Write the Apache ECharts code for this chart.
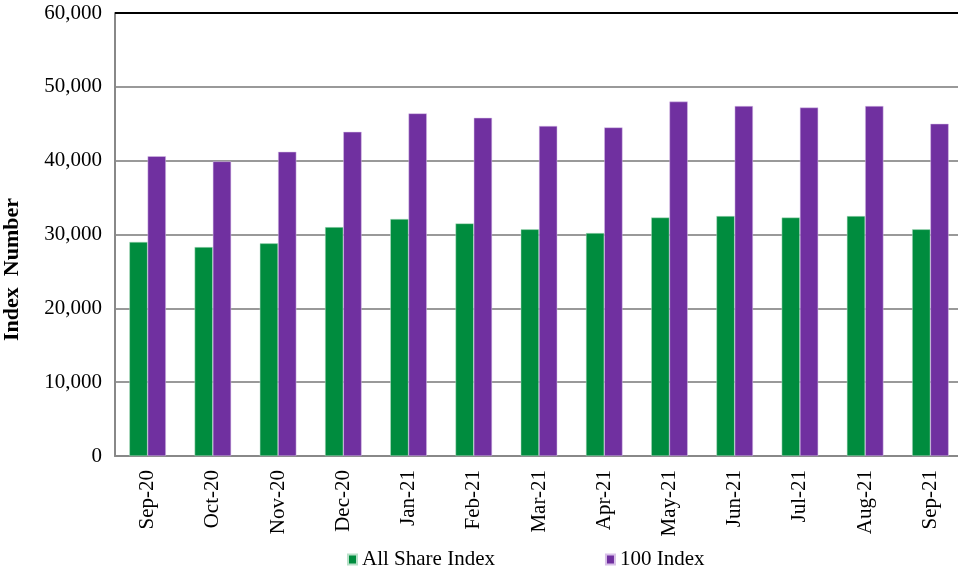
<!DOCTYPE html>
<html>
<head>
<meta charset="utf-8">
<script src="https://cdn.jsdelivr.net/npm/echarts@6/dist/echarts.min.js"></script>
<style>
  html, body { margin: 0; padding: 0; background: #fff; }
  #chartDiv { width: 958px; height: 577px; }
</style>
</head>
<body>
<div id="chartDiv"></div>
<script>
var months = ["Sep-20", "Oct-20", "Nov-20", "Dec-20", "Jan-21", "Feb-21", "Mar-21",
  "Apr-21", "May-21", "Jun-21", "Jul-21", "Aug-21", "Sep-21"];
var allShare = [29000, 28300, 28800, 31000, 32100, 31500, 30700, 30200, 32300, 32500, 32300, 32500, 30700];
var index100 = [40600, 39900, 41200, 43900, 46400, 45800, 44700, 44500, 48000, 47400, 47200, 47400, 45000];

var serif = "Liberation Serif";

var myChart = echarts.init(document.getElementById("chartDiv"));

var option = {
  animation: false,
  grid: { left: 115, top: 13, bottom: 121, width: 848, containLabel: false, outerBoundsMode: "none" },
  legend: {
    bottom: 2,
    left: 342,
    itemGap: 110,
    itemWidth: 9,
    itemHeight: 10,
    icon: "rect",
    textStyle: { fontFamily: serif, fontSize: 21, color: "#000" },
    data: ["All Share Index", "100 Index"]
  },
  xAxis: {
    type: "category",
    data: months,
    axisLine: { lineStyle: { color: "#888", width: 2 } },
    axisTick: { show: false },
    axisLabel: {
      rotate: 90,
      margin: 14,
      fontFamily: serif,
      fontSize: 21,
      color: "#000"
    }
  },
  yAxis: {
    type: "value",
    min: 0,
    max: 60000,
    interval: 10000,
    name: "Index  Number",
    nameLocation: "middle",
    nameGap: 92,
    nameTextStyle: {
      fontFamily: serif, fontSize: 22, fontWeight: "bold", color: "#000",
      padding: [0, 70, 0, 0]
    },
    axisLine: { show: true, lineStyle: { color: "#888", width: 2 } },
    axisTick: { show: false },
    axisLabel: {
      margin: 13,
      fontFamily: serif,
      fontSize: 21,
      color: "#000",
      formatter: function (v) { return v.toLocaleString("en-US"); }
    },
    splitLine: { lineStyle: { color: "#999", width: 2 } }
  },
  series: [
    {
      name: "All Share Index",
      type: "bar",
      data: allShare,
      barWidth: "28%",
      barGap: "0%",
      itemStyle: { color: "#008C3E", borderColor: "#B8E0C8", borderWidth: 0.5 },
      markLine: {
        silent: true,
        symbol: "none",
        label: { show: false },
        lineStyle: { color: "#000", width: 2, type: "solid" },
        data: [{ yAxis: 60000 }]
      }
    },
    {
      name: "100 Index",
      type: "bar",
      data: index100,
      barWidth: "28%",
      itemStyle: { color: "#7030A0", borderColor: "#D8C0E8", borderWidth: 0.5 }
    }
  ]
};

myChart.setOption(option);
</script>
</body>
</html>
